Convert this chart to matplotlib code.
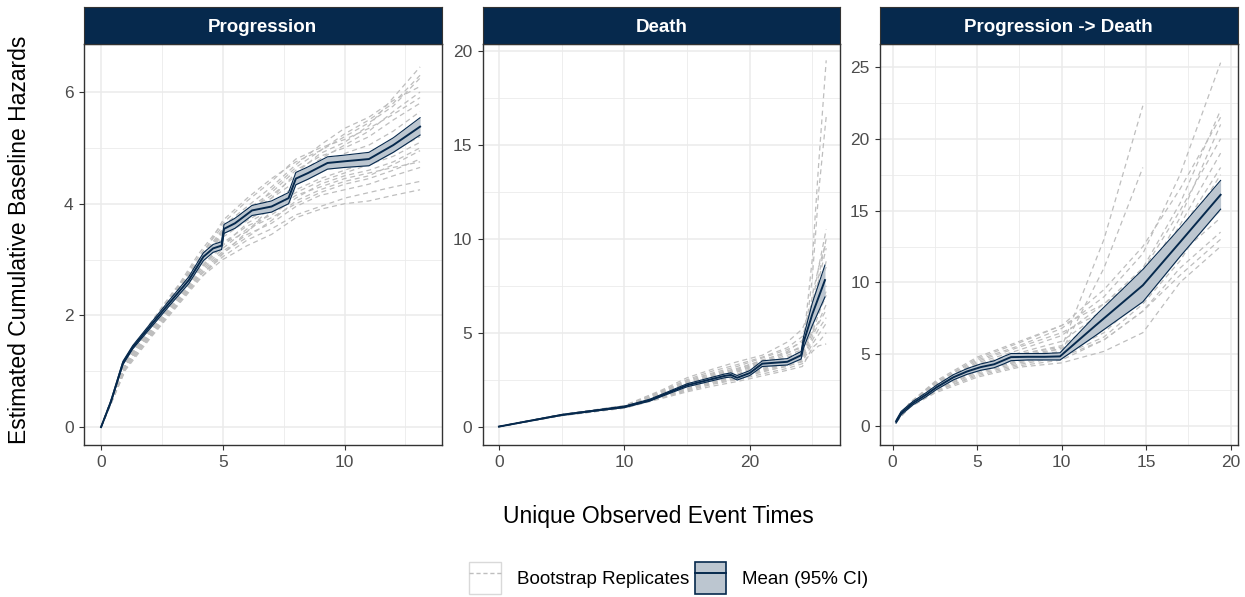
import numpy as np
import matplotlib.pyplot as plt
from matplotlib.lines import Line2D
from matplotlib.patches import Patch
from matplotlib.legend_handler import HandlerTuple

plt.rcParams['font.family'] = ['Liberation Sans', 'DejaVu Sans']

navy = '#06294d'
band = '#bcc6d0'
rep_col = '#bebebe'

# ---- Progression ----
prog_t = [0, 0.4, 0.9, 1.3, 2.0, 2.8, 3.6, 4.2, 4.6, 4.95, 5.05, 5.5, 6.2, 7.0, 7.7, 8.0, 8.5, 9.3, 10.0, 11.0, 12.0, 13.1]
prog_mean = [0, 0.45, 1.15, 1.43, 1.8, 2.22, 2.63, 3.05, 3.2, 3.25, 3.55, 3.65, 3.88, 3.95, 4.1, 4.45, 4.55, 4.73, 4.76, 4.8, 5.05, 5.38]
prog_lo = [0, 0.43, 1.12, 1.40, 1.76, 2.17, 2.57, 2.98, 3.13, 3.18, 3.47, 3.56, 3.79, 3.85, 4.0, 4.34, 4.44, 4.62, 4.65, 4.68, 4.92, 5.23]
prog_hi = [0, 0.47, 1.18, 1.46, 1.84, 2.27, 2.69, 3.12, 3.27, 3.32, 3.63, 3.74, 3.97, 4.05, 4.2, 4.56, 4.66, 4.84, 4.87, 4.92, 5.18, 5.54]
prog_rep_t = [0, 1, 2, 3, 4, 5, 6, 7, 8, 9, 10, 11, 12, 13.1]
prog_reps = [
    [0, 1.10, 1.75, 2.30, 2.90, 3.45, 3.80, 4.10, 4.55, 4.90, 5.10, 5.40, 5.90, 6.45],
    [0, 1.05, 1.65, 2.20, 2.75, 3.20, 3.55, 3.75, 4.00, 4.20, 4.35, 4.45, 4.60, 4.80],
    [0, 1.15, 1.80, 2.40, 3.05, 3.60, 3.95, 4.30, 4.70, 5.05, 5.35, 5.55, 5.85, 6.10],
    [0, 1.08, 1.62, 2.15, 2.70, 3.05, 3.35, 3.55, 3.80, 3.95, 4.10, 4.20, 4.30, 4.40],
    [0, 1.12, 1.72, 2.28, 2.85, 3.40, 3.70, 3.95, 4.35, 4.60, 4.75, 4.90, 5.15, 5.50],
    [0, 1.10, 1.70, 2.25, 2.80, 3.30, 3.60, 3.80, 4.10, 4.35, 4.50, 4.60, 4.75, 5.00],
    [0, 1.13, 1.78, 2.35, 2.98, 3.55, 3.90, 4.20, 4.60, 4.85, 5.00, 5.20, 5.50, 5.80],
    [0, 1.06, 1.60, 2.12, 2.65, 3.00, 3.25, 3.45, 3.75, 3.90, 4.00, 4.05, 4.15, 4.25],
    [0, 1.12, 1.75, 2.32, 2.92, 3.48, 3.85, 4.10, 4.40, 4.70, 4.90, 5.05, 5.30, 5.65],
    [0, 1.09, 1.68, 2.22, 2.78, 3.25, 3.65, 3.90, 4.25, 4.45, 4.60, 4.75, 4.95, 5.20],
    [0, 1.14, 1.80, 2.38, 3.00, 3.50, 3.85, 4.15, 4.50, 4.80, 5.05, 5.30, 5.65, 6.00],
    [0, 1.07, 1.66, 2.18, 2.72, 3.15, 3.45, 3.65, 3.95, 4.15, 4.25, 4.35, 4.50, 4.65],
    [0, 1.18, 1.85, 2.45, 2.95, 3.70, 4.10, 4.45, 4.75, 4.95, 5.20, 5.45, 5.75, 6.25],
    [0, 1.02, 1.58, 2.10, 2.62, 3.10, 3.50, 3.95, 4.20, 4.40, 4.55, 4.70, 4.85, 5.10],
    [0, 1.16, 1.82, 2.42, 3.10, 3.65, 4.05, 4.40, 4.80, 5.00, 5.15, 5.35, 5.60, 5.90],
    [0, 1.04, 1.63, 2.14, 2.68, 3.12, 3.40, 3.70, 4.05, 4.25, 4.40, 4.50, 4.70, 4.95],
    [0, 1.11, 1.77, 2.36, 2.88, 3.52, 3.75, 4.25, 4.65, 4.95, 5.25, 5.50, 5.80, 6.30],
    [0, 1.09, 1.69, 2.26, 2.82, 3.28, 3.50, 3.85, 4.15, 4.30, 4.45, 4.55, 4.65, 4.75],
]

# ---- Death ----
death_t = [0, 2, 5, 8, 10, 12, 13.5, 15, 16.5, 18, 18.5, 19, 20, 21, 22, 23, 24.1, 24.3, 25, 26.0]
death_mean = [0, 0.25, 0.62, 0.88, 1.05, 1.4, 1.8, 2.2, 2.45, 2.7, 2.75, 2.6, 2.85, 3.35, 3.4, 3.45, 3.8, 4.5, 6.0, 7.8]
death_lo = [0, 0.24, 0.60, 0.85, 1.01, 1.35, 1.74, 2.12, 2.36, 2.6, 2.64, 2.48, 2.72, 3.2, 3.24, 3.28, 3.6, 4.2, 5.4, 6.9]
death_hi = [0, 0.26, 0.64, 0.91, 1.09, 1.45, 1.86, 2.28, 2.54, 2.8, 2.86, 2.72, 2.98, 3.5, 3.56, 3.62, 4.0, 4.8, 6.6, 8.6]
death_rep_t = [0, 5, 10, 13, 15, 17, 19, 21, 23, 24.2, 25, 25.5, 26.1]
death_reps = [
    [0, 0.62, 1.05, 1.75, 2.20, 2.55, 2.80, 3.30, 3.60, 3.95, 9.0, 14.0, 19.5],
    [0, 0.60, 1.00, 1.60, 2.00, 2.35, 2.60, 2.95, 3.20, 3.50, 8.0, 12.5, 16.5],
    [0, 0.65, 1.10, 1.90, 2.50, 2.95, 3.30, 3.70, 4.20, 4.80, 6.5, 8.5, 10.5],
    [0, 0.58, 0.98, 1.50, 1.85, 2.15, 2.40, 2.70, 3.00, 3.20, 4.2, 4.5, 5.0],
    [0, 0.63, 1.08, 1.85, 2.40, 2.80, 3.10, 3.50, 4.00, 4.60, 6.0, 7.8, 9.5],
    [0, 0.61, 1.03, 1.65, 2.10, 2.45, 2.70, 3.10, 3.40, 3.70, 5.0, 6.0, 7.0],
    [0, 0.64, 1.12, 1.95, 2.60, 3.05, 3.45, 3.80, 4.50, 5.20, 6.5, 7.5, 8.5],
    [0, 0.59, 0.99, 1.55, 1.90, 2.25, 2.50, 2.80, 3.10, 3.35, 4.0, 4.3, 4.4],
    [0, 0.62, 1.06, 1.70, 2.25, 2.60, 2.90, 3.35, 3.70, 4.00, 5.5, 6.8, 8.0],
    [0, 0.60, 1.02, 1.62, 2.05, 2.40, 2.65, 3.00, 3.30, 3.60, 4.8, 5.5, 6.2],
    [0, 0.63, 1.07, 1.80, 2.35, 2.70, 3.00, 3.45, 3.90, 4.30, 6.0, 8.0, 10.0],
    [0, 0.61, 1.04, 1.68, 2.15, 2.50, 2.75, 3.20, 3.50, 3.80, 5.2, 6.5, 7.5],
    [0, 0.62, 1.04, 1.72, 2.18, 2.65, 2.95, 3.40, 3.80, 4.10, 5.8, 7.2, 8.8],
    [0, 0.61, 1.01, 1.58, 2.02, 2.38, 2.62, 3.05, 3.35, 3.55, 4.6, 5.2, 5.8],
    [0, 0.64, 1.09, 1.88, 2.45, 2.85, 3.20, 3.65, 4.10, 4.50, 5.5, 6.3, 7.2],
    [0, 0.60, 1.03, 1.66, 2.12, 2.48, 2.72, 3.15, 3.45, 3.75, 7.0, 8.5, 9.8],
    [0, 0.63, 1.06, 1.78, 2.30, 2.75, 3.05, 3.55, 3.95, 4.20, 5.0, 5.6, 6.5],
    [0, 0.59, 1.00, 1.57, 1.95, 2.30, 2.55, 2.90, 3.25, 3.45, 4.4, 4.9, 5.5],
]

# ---- Progression -> Death ----
pd_t = [0.2, 0.5, 1.2, 2.0, 2.6, 3.6, 4.4, 5.2, 6.0, 6.6, 7.0, 8.0, 9.0, 9.9, 12.0, 14.8, 17.0, 19.4]
pd_mean = [0.3, 0.9, 1.6, 2.2, 2.7, 3.4, 3.8, 4.1, 4.3, 4.6, 4.8, 4.82, 4.82, 4.85, 7.0, 9.8, 12.8, 16.1]
pd_lo = [0.2, 0.78, 1.48, 2.06, 2.55, 3.22, 3.6, 3.88, 4.06, 4.34, 4.55, 4.6, 4.6, 4.6, 6.3, 8.65, 11.8, 15.1]
pd_hi = [0.4, 1.02, 1.72, 2.34, 2.85, 3.58, 4.0, 4.32, 4.54, 4.86, 5.05, 5.05, 5.05, 5.1, 7.7, 10.9, 13.8, 17.1]
pd_rep_t = [0.2, 1, 2.5, 5, 7.5, 10, 12.5, 14.8, 17, 19.4]
pd_reps = [
    [0.3, 1.5, 2.8, 4.2, 5.0, 5.5, 13.0, 22.3, np.nan, np.nan],
    [0.3, 1.4, 2.6, 4.0, 4.8, 5.2, 11.0, 18.0, np.nan, np.nan],
    [0.3, 1.6, 3.0, 4.6, 5.6, 6.8, 9.0, 12.0, 17.5, 25.3],
    [0.3, 1.3, 2.4, 3.6, 4.3, 4.8, 6.0, 8.0, 10.5, 13.0],
    [0.3, 1.5, 2.9, 4.4, 5.3, 6.3, 8.5, 11.0, 15.5, 22.0],
    [0.3, 1.4, 2.5, 3.8, 4.5, 5.0, 7.0, 9.5, 13.5, 18.0],
    [0.3, 1.5, 2.7, 4.0, 4.7, 5.4, 7.5, 10.0, 14.5, 21.0],
    [0.3, 1.3, 2.3, 3.4, 4.1, 4.4, 5.2, 6.5, 10.0, 12.5],
    [0.3, 1.6, 3.0, 4.7, 5.8, 7.0, 8.5, 10.5, 13.0, 15.5],
    [0.3, 1.4, 2.6, 3.9, 4.6, 5.1, 7.0, 9.0, 12.0, 14.5],
    [0.3, 1.5, 2.8, 4.3, 5.1, 5.9, 8.0, 10.8, 15.0, 20.0],
    [0.3, 1.4, 2.5, 3.7, 4.4, 4.9, 6.2, 8.5, 11.5, 16.0],
    [0.3, 1.5, 2.9, 4.5, 5.5, 6.5, 8.0, 10.0, 13.0, 17.5],
    [0.3, 1.4, 2.6, 3.9, 4.5, 5.0, 6.5, 9.0, 12.5, 15.0],
    [0.3, 1.6, 3.1, 4.8, 5.9, 7.0, 9.5, 12.5, 16.5, 21.5],
    [0.3, 1.3, 2.4, 3.5, 4.2, 4.6, 6.0, 8.0, 11.0, 13.5],
    [0.3, 1.5, 2.8, 4.2, 5.0, 5.6, 7.5, 9.8, 14.0, 19.0],
    [0.3, 1.4, 2.7, 4.1, 4.9, 5.4, 6.8, 9.2, 12.8, 16.5],
]

panels = [
    ('Progression', prog_t, prog_mean, prog_lo, prog_hi, prog_rep_t, prog_reps,
     (-0.70, 13.98), (-0.32, 6.86), [0, 5, 10], [0, 2, 4, 6]),
    ('Death', death_t, death_mean, death_lo, death_hi, death_rep_t, death_reps,
     (-1.31, 27.2), (-0.98, 20.37), [0, 10, 20], [0, 5, 10, 15, 20]),
    ('Progression -> Death', pd_t, pd_mean, pd_lo, pd_hi, pd_rep_t, pd_reps,
     (-0.75, 20.4), (-1.32, 26.6), [0, 5, 10, 15, 20], [0, 5, 10, 15, 20, 25]),
]

W, H = 1245, 597
fig = plt.figure(figsize=(W / 100, H / 100), dpi=100)
lefts = [84, 482.5, 880]
pw = 357.5
top, bottom = 44, 445
strip_h = 37

for (title, t, m, lo, hi, rt, reps, xl, yl, xt, yt), lx in zip(panels, lefts):
    ax = fig.add_axes([lx / W, 1 - bottom / H, pw / W, (bottom - top) / H])
    for r in reps:
        ax.plot(rt, r, color=rep_col, lw=0.9, ls=(0, (4, 3)), zorder=2)
    ax.fill_between(t, lo, hi, color=band, lw=0, zorder=3)
    ax.plot(t, lo, color=navy, lw=0.8, zorder=4)
    ax.plot(t, hi, color=navy, lw=0.8, zorder=4)
    ax.plot(t, m, color=navy, lw=1.4, zorder=5)
    ax.set_xticks(xt)
    ax.set_yticks(yt)
    xs = np.diff(xt)[0] / 2
    ys = np.diff(yt)[0] / 2
    ax.set_xticks([v + xs for v in [xt[0] - 2 * xs] + xt], minor=True)
    ax.set_yticks([v + ys for v in [yt[0] - 2 * ys] + yt], minor=True)
    ax.set_xlim(*xl)
    ax.set_ylim(*yl)
    ax.grid(True, which='major', color='#ebebeb', lw=1.1, zorder=0)
    ax.grid(True, which='minor', color='#ebebeb', lw=0.6, zorder=0)
    ax.set_axisbelow(True)
    ax.tick_params(which='major', length=3.5, width=0.8, color='#333333',
                   labelcolor='#4d4d4d', labelsize=12.5, pad=4)
    ax.tick_params(which='minor', length=0)
    for s in ax.spines.values():
        s.set_color('#333333')
        s.set_linewidth(1.0)
    # strip header
    sax = fig.add_axes([lx / W, 1 - top / H, pw / W, strip_h / H])
    sax.set_facecolor(navy)
    sax.set_xticks([])
    sax.set_yticks([])
    for s in sax.spines.values():
        s.set_color('#333333')
    sax.text(0.5, 0.45, title, color='white', fontsize=13.5, fontweight='bold',
             ha='center', va='center', transform=sax.transAxes)

fig.text(20 / W, 1 - 240 / H, 'Estimated Cumulative Baseline Hazards',
         rotation=90, ha='center', va='center', fontsize=16.5, color='black')
fig.text(658 / W, 1 - 516 / H, 'Unique Observed Event Times',
         ha='center', va='center', fontsize=16.5, color='black')

h1 = (Patch(facecolor='white', edgecolor='#d9d9d9', lw=1.0),
      Line2D([], [], color=rep_col, lw=1.0, ls=(0, (3, 2))))
h2 = (Patch(facecolor=band, edgecolor=navy, lw=1.2),
      Line2D([], [], color=navy, lw=1.4))
fig.legend([h1, h2], ['Bootstrap Replicates', 'Mean (95% CI)'],
           handler_map={tuple: HandlerTuple(ndivide=1, pad=0)},
           loc='center', bbox_to_anchor=(669 / W, 1 - 578 / H), ncol=2,
           frameon=False, fontsize=13.5, handlelength=1.7, handleheight=2.3,
           handletextpad=0.85, columnspacing=0.27, borderpad=0)

fig.savefig('out.png', dpi=100)
